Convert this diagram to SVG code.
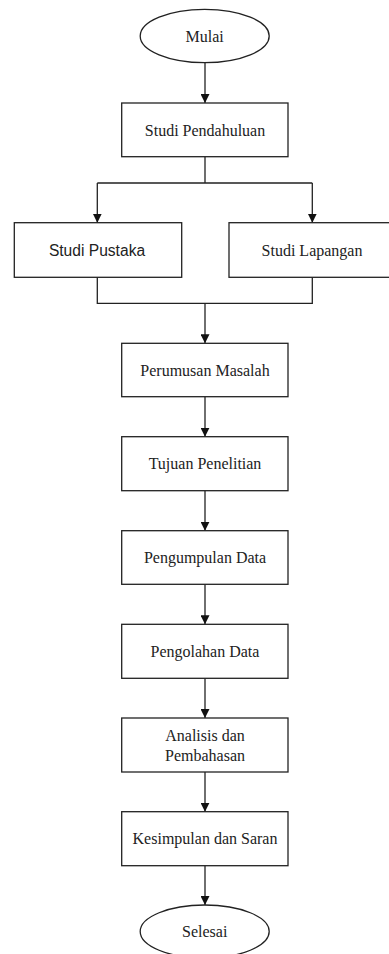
<svg xmlns="http://www.w3.org/2000/svg" width="389" height="954" viewBox="0 0 389 954">
<style>
.box{fill:#fff;stroke:#222;stroke-width:1.3}
.t{font-family:"Liberation Serif","Times New Roman",serif;font-size:16px;fill:#222;text-anchor:middle;dominant-baseline:central}
.s{font-family:"Liberation Sans",Arial,sans-serif;font-size:15.6px;fill:#222;text-anchor:middle;dominant-baseline:central}
.c{fill:none;stroke:#222;stroke-width:1.3}
</style>
<defs>
<marker id="ah" viewBox="0 0 10 10" refX="10" refY="5" markerWidth="9" markerHeight="9" markerUnits="userSpaceOnUse" orient="auto">
<path d="M0,0 L10,5 L0,10 z" fill="#111"/>
</marker>
</defs>
<rect width="389" height="954" fill="#fff"/>
<g id="connectors">
<path class="c" d="M205,62.7 V103" marker-end="url(#ah)"/>
<path class="c" d="M205,156.7 V183 M97.3,183 H312.3"/>
<path class="c" d="M97.3,183 V222.7" marker-end="url(#ah)"/>
<path class="c" d="M312.3,183 V222.7" marker-end="url(#ah)"/>
<path class="c" d="M97.3,277.3 V303.3 H312.3 V277.3"/>
<path class="c" d="M205,303.3 V343.3" marker-end="url(#ah)"/>
<path class="c" d="M205,396.7 V436.7" marker-end="url(#ah)"/>
<path class="c" d="M205,490.7 V530.7" marker-end="url(#ah)"/>
<path class="c" d="M205,584.3 V624.3" marker-end="url(#ah)"/>
<path class="c" d="M205,678.3 V718" marker-end="url(#ah)"/>
<path class="c" d="M205,772 V811.7" marker-end="url(#ah)"/>
<path class="c" d="M205,865.7 V905" marker-end="url(#ah)"/>
</g>
<g id="mulai">
<ellipse class="box" cx="204.7" cy="36" rx="64.5" ry="26.7"/>
<text class="t" x="204.7" y="36">Mulai</text>
</g>
<g id="studi-pendahuluan">
<rect class="box" x="121.7" y="103" width="166.3" height="53.7"/>
<text class="t" x="205" y="130">Studi Pendahuluan</text>
</g>
<g id="studi-pustaka">
<rect class="box" x="14.3" y="222.7" width="167.4" height="54.6"/>
<text class="s" x="97" y="250.5">Studi Pustaka</text>
</g>
<g id="studi-lapangan">
<rect class="box" x="229" y="222.7" width="168" height="54.6"/>
<text class="t" x="312" y="250.5">Studi Lapangan</text>
</g>
<g id="perumusan-masalah">
<rect class="box" x="121.7" y="343.3" width="166.3" height="53.4"/>
<text class="t" x="205" y="370">Perumusan Masalah</text>
</g>
<g id="tujuan-penelitian">
<rect class="box" x="121.7" y="436.7" width="166.3" height="54"/>
<text class="t" x="205" y="463.7">Tujuan Penelitian</text>
</g>
<g id="pengumpulan-data">
<rect class="box" x="121.7" y="530.7" width="166.3" height="53.6"/>
<text class="t" x="205" y="557.5">Pengumpulan Data</text>
</g>
<g id="pengolahan-data">
<rect class="box" x="121.7" y="624.3" width="166.3" height="54"/>
<text class="t" x="205" y="651.3">Pengolahan Data</text>
</g>
<g id="analisis-pembahasan">
<rect class="box" x="121.7" y="718" width="166.3" height="54"/>
<text class="t" x="205" y="735.5">Analisis dan</text>
<text class="t" x="205" y="755">Pembahasan</text>
</g>
<g id="kesimpulan-saran">
<rect class="box" x="121.7" y="811.7" width="166.3" height="54"/>
<text class="t" x="205" y="838.7">Kesimpulan dan Saran</text>
</g>
<g id="selesai">
<ellipse class="box" cx="204.7" cy="931.5" rx="64.5" ry="26.5"/>
<text class="t" x="204.7" y="931.5">Selesai</text>
</g>
</svg>
